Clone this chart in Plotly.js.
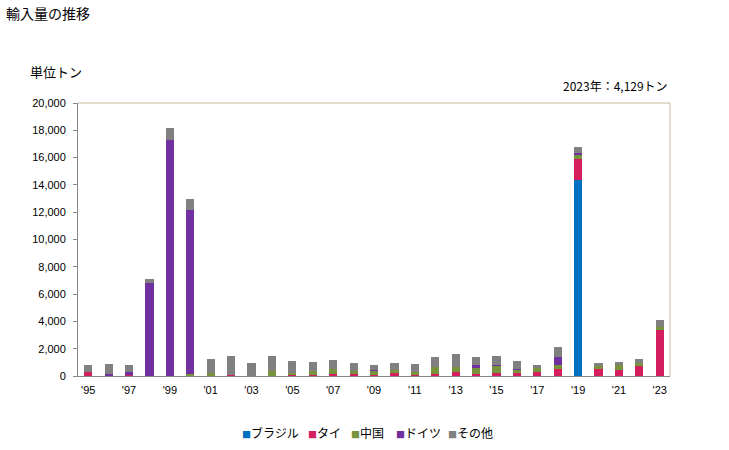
<!DOCTYPE html>
<html>
<head>
<meta charset="utf-8">
<script src="https://cdn.plot.ly/plotly-3.0.1.min.js"></script>
<style>html,body{margin:0;padding:0;background:#fff;}#chart{width:729px;height:450px;}</style>
</head>
<body>
<div id="chart"></div>
<script>
const years = [1995,1996,1997,1998,1999,2000,2001,2002,2003,2004,2005,2006,2007,2008,2009,2010,2011,2012,2013,2014,2015,2016,2017,2018,2019,2020,2021,2022,2023];
const brazil = [0,0,0,0,0,0,0,0,0,0,0,0,0,0,0,0,0,0,0,0,0,0,0,0,14360,0,0,0,0];
const thai   = [290,0,60,0,0,0,0,100,0,0,70,100,170,170,100,220,100,170,320,170,220,220,320,510,1540,510,440,730,3395];
const china  = [0,0,0,0,0,170,220,0,0,370,120,270,340,200,270,240,220,490,320,415,490,220,270,290,290,220,340,220,195];
const germany= [0,170,220,6800,17300,11990,0,0,0,0,0,0,0,0,70,0,0,0,0,220,70,70,0,590,150,0,0,0,0];
const others = [520,710,520,300,870,810,1025,1390,950,1120,930,680,690,580,360,490,560,740,970,585,685,590,215,735,440,220,245,295,540];
const seriesNames = ['ブラジル','タイ','中国','ドイツ','その他'];
const seriesColors = ['#0070c0','#d41e5e','#77933c','#7030a0','#808080'];
const seriesData = [brazil, thai, china, germany, others];
const tickYears = years.filter((y,i)=>i%2===0);
const tickText = tickYears.map(y=>"'"+String(y).slice(2));

const traces = seriesData.map((d,i)=>({
  type:'bar', x:years, y:d, name:seriesNames[i],
  marker:{color:seriesColors[i], line:{width:0}},
  hoverinfo:'skip', showlegend:false
}));

// legend drawn as text items (square + name), left edges in pixels
const legendLeft = [240, 306, 349, 394, 446];
const W = 592, H = 273, L = 78, B = 376;
const legendAnn = seriesNames.map((n,i)=>({
  text:'<span style="color:'+seriesColors[i]+';font-size:9px">■</span>'+n,
  xref:'paper', yref:'paper', x:(legendLeft[i]-L)/W, y:-(432-B)/H,
  xanchor:'left', yanchor:'middle', showarrow:false,
  font:{size:12, family:"'Noto Sans CJK JP', sans-serif", color:'#000'}
}));

const font = "'Liberation Sans', 'Noto Sans CJK JP', sans-serif";
const layout = {
  width:729, height:450,
  margin:{l:78, r:59, t:103, b:74, autoexpand:false},
  barmode:'stack', bargap:0.6,
  paper_bgcolor:'#fff', plot_bgcolor:'#fff',
  font:{family:font, size:11, color:'#000'},
  showlegend:false,
  xaxis:{range:[1994.5,2023.5], tickvals:tickYears, ticktext:tickText, showgrid:false,
         zeroline:false, showline:true, linecolor:'#888', linewidth:1, ticks:'', fixedrange:true,
         tickfont:{size:11}, ticklabelstandoff:4, automargin:false},
  yaxis:{range:[0,20000], dtick:2000, tickformat:',d', showgrid:false, zeroline:false,
         showline:true, linecolor:'#888', linewidth:1, ticks:'outside', ticklen:4, tickcolor:'#888',
         tickfont:{size:11}, ticklabelstandoff:5, automargin:false},
  shapes:[
    {type:'line', xref:'paper', yref:'paper', x0:0, x1:1, y0:1, y1:1, line:{color:'#c4bc96', width:1}},
    {type:'line', xref:'paper', yref:'paper', x0:1, x1:1, y0:0, y1:1, line:{color:'#c4bc96', width:1}}
  ],
  annotations:[
    {text:'輸入量の推移', xref:'paper', yref:'paper', x:-74/W, y:1+90/H, xanchor:'left', yanchor:'middle',
     showarrow:false, font:{size:14, family:"'Noto Sans CJK JP', sans-serif"}},
    {text:'単位トン', xref:'paper', yref:'paper', x:-50/W, y:1+31/H, xanchor:'left', yanchor:'middle',
     showarrow:false, font:{size:13, family:"'Noto Sans CJK JP', sans-serif"}},
    {text:'2023年：4,129トン', xref:'paper', yref:'paper', x:1, y:1+18/H, xanchor:'right', yanchor:'middle',
     showarrow:false, font:{size:12, family:"'Noto Sans CJK JP', sans-serif"}}
  ].concat(legendAnn)
};
Plotly.newPlot('chart', traces, layout, {displayModeBar:false, staticPlot:true});
</script>
</body>
</html>
